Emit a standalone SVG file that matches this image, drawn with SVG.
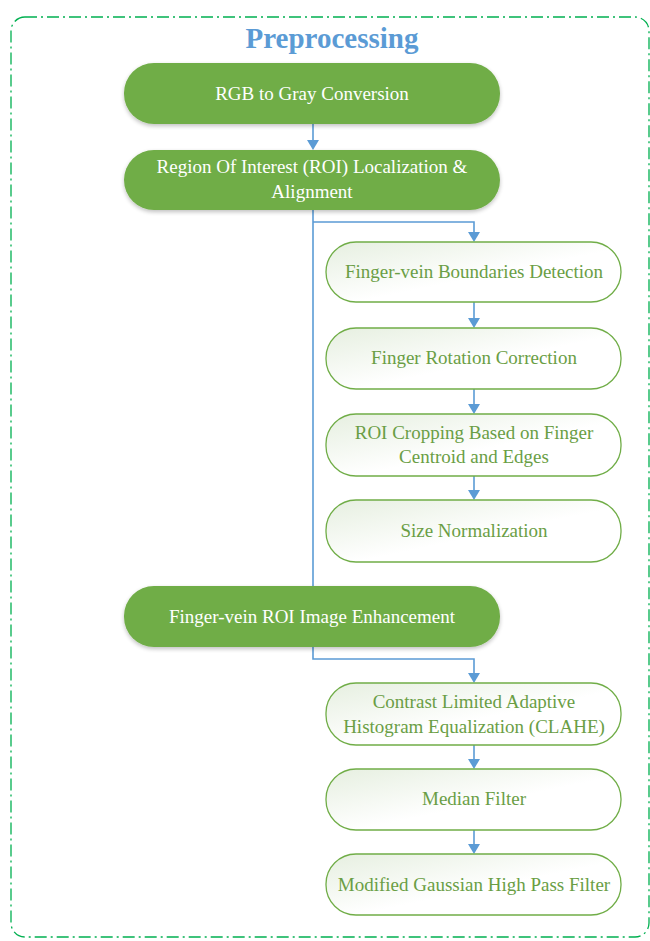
<svg xmlns="http://www.w3.org/2000/svg" width="650" height="941" viewBox="0 0 650 941">
<defs>
<linearGradient id="lg" x1="0" y1="0" x2="1" y2="1">
<stop offset="0" stop-color="#e6efe0"/>
<stop offset="0.55" stop-color="#ffffff"/>
<stop offset="1" stop-color="#ffffff"/>
</linearGradient>
<filter id="sh" x="-10%" y="-20%" width="120%" height="150%">
<feGaussianBlur in="SourceAlpha" stdDeviation="2"/>
<feOffset dx="0" dy="2" result="b"/>
<feComponentTransfer><feFuncA type="linear" slope="0.25"/></feComponentTransfer>
<feMerge><feMergeNode/><feMergeNode in="SourceGraphic"/></feMerge>
</filter>
</defs>
<style>
.main{fill:#70ad47;filter:url(#sh)}
.sub{fill:url(#lg);stroke:#70ad47;stroke-width:1.3}
.tw{font-family:"Liberation Serif","Times New Roman",serif;font-size:19px;fill:#ffffff;text-anchor:middle}
.tg{font-family:"Liberation Serif","Times New Roman",serif;font-size:19px;fill:#6a9e45;text-anchor:middle}
.c{fill:none;stroke:#5b9bd5;stroke-width:1.6}
.ar{fill:#5b9bd5}
</style>
<rect x="11" y="17" width="638" height="920" rx="14" fill="none" stroke="#00b050" stroke-width="1.3" stroke-dasharray="12,4,2,4"/>
<text x="332" y="48" font-family="Liberation Serif,'Times New Roman',serif" font-size="29" font-weight="bold" fill="#5b9bd5" text-anchor="middle">Preprocessing</text>

<g id="connectors">
<path class="c" d="M313,124 V143"/>
<path class="ar" d="M307,140 L319,140 L313,150 Z"/>
<path class="c" d="M313,210 V586"/>
<path class="c" d="M313,222 H474 V236"/>
<path class="ar" d="M468,232 L480,232 L474,242 Z"/>
<path class="c" d="M474,302 V321"/>
<path class="ar" d="M468,318 L480,318 L474,328 Z"/>
<path class="c" d="M474,389 V407"/>
<path class="ar" d="M468,404 L480,404 L474,414 Z"/>
<path class="c" d="M474,476 V493"/>
<path class="ar" d="M468,490 L480,490 L474,500 Z"/>
<path class="c" d="M313,647 V659 H474 V676"/>
<path class="ar" d="M468,673 L480,673 L474,683 Z"/>
<path class="c" d="M474,745 V762"/>
<path class="ar" d="M468,759 L480,759 L474,769 Z"/>
<path class="c" d="M474,830 V847"/>
<path class="ar" d="M468,844 L480,844 L474,854 Z"/>
</g>

<g id="n1"><rect class="main" x="124" y="63" width="376" height="61" rx="30"/><text class="tw" x="312" y="100">RGB to Gray Conversion</text></g>
<g id="n2"><rect class="main" x="124" y="150" width="376" height="60" rx="30"/><text class="tw" x="312" y="173">Region Of Interest (ROI) Localization &amp;</text><text class="tw" x="312" y="198">Alignment</text></g>
<g id="n3"><rect class="sub" x="326" y="242" width="295" height="60" rx="30"/><text class="tg" x="474" y="278">Finger-vein Boundaries Detection</text></g>
<g id="n4"><rect class="sub" x="326" y="328" width="295" height="61" rx="30"/><text class="tg" x="474" y="364">Finger Rotation Correction</text></g>
<g id="n5"><rect class="sub" x="326" y="414" width="295" height="62" rx="30"/><text class="tg" x="474" y="439">ROI Cropping Based on Finger</text><text class="tg" x="474" y="463">Centroid and Edges</text></g>
<g id="n6"><rect class="sub" x="326" y="500" width="295" height="62" rx="30"/><text class="tg" x="474" y="537">Size Normalization</text></g>
<g id="n7"><rect class="main" x="124" y="586" width="376" height="61" rx="30"/><text class="tw" x="312" y="623">Finger-vein ROI Image Enhancement</text></g>
<g id="n8"><rect class="sub" x="326" y="683" width="295" height="62" rx="30"/><text class="tg" x="474" y="708">Contrast Limited Adaptive</text><text class="tg" x="474" y="733">Histogram Equalization (CLAHE)</text></g>
<g id="n9"><rect class="sub" x="326" y="769" width="295" height="61" rx="30"/><text class="tg" x="474" y="805">Median Filter</text></g>
<g id="n10"><rect class="sub" x="326" y="854" width="295" height="61" rx="30"/><text class="tg" x="474" y="891">Modified Gaussian High Pass Filter</text></g>
</svg>
